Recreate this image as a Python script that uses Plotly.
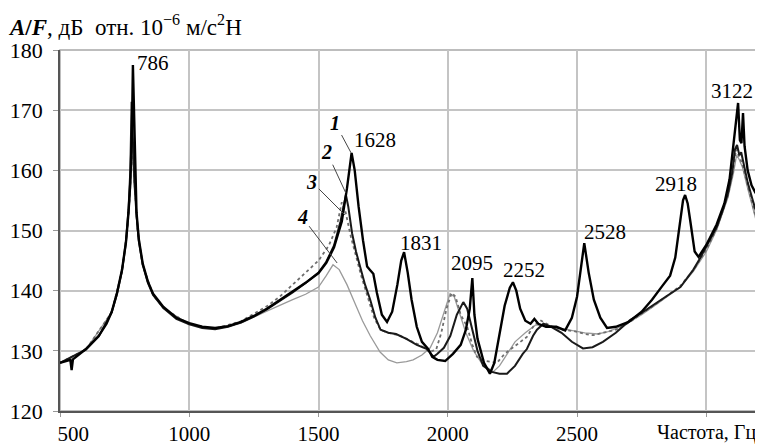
import plotly.graph_objects as go

# ---- data ----
f1 = [500, 530, 540, 545, 550, 600, 650, 680, 700, 720, 740, 755, 765, 772, 778, 782, 786, 790, 796, 805, 820, 840, 860, 900, 950,
      1000, 1050, 1100, 1150, 1200, 1250, 1300, 1350, 1400, 1450, 1500, 1530, 1560, 1590, 1610, 1628, 1640, 1655, 1672, 1688,
      1700, 1712, 1726, 1745, 1765, 1785, 1805, 1820, 1831, 1845, 1860, 1880, 1900, 1924, 1940, 1960, 1990, 2020, 2050, 2070,
      2085, 2095, 2103, 2115, 2140, 2163, 2180, 2200, 2220, 2240, 2252, 2265, 2280, 2300, 2320, 2335, 2350, 2380, 2420, 2454,
      2480, 2500, 2515, 2528, 2545, 2565, 2590, 2616, 2650, 2700, 2750, 2790, 2830, 2860, 2880, 2895, 2910, 2918, 2928, 2940,
      2955, 2970, 3000, 3040, 3070, 3090, 3105, 3117, 3123, 3130, 3136, 3142, 3148, 3160, 3175, 3190, 3200]
a1 = [128.0, 128.3, 128.5, 126.8, 128.6, 130.3, 132.5, 134.5, 136.5, 139.5, 143.5, 148.0, 153.0, 158.0, 166.0, 177.5, 170.0, 160.0, 153.0, 148.5, 144.5, 141.5, 139.5, 137.3, 135.5,
      134.6, 134.0, 133.8, 134.1, 134.8, 135.8, 137.0, 138.4, 139.8, 141.3, 142.9, 144.6, 147.2, 151.5, 157.0, 162.9, 160.0, 154.0, 148.4, 144.0,
      143.4, 142.8, 139.6, 136.0, 134.8, 136.5, 141.0, 145.0, 146.4, 143.0, 138.5, 134.0, 131.5, 130.3, 129.0, 128.5, 128.3, 129.5, 131.0, 133.5,
      137.0, 142.1, 136.0, 132.0, 128.0, 126.2, 128.0, 133.0, 137.5, 140.5, 141.4, 140.0, 137.0, 135.0, 134.5, 135.3, 134.5, 134.0, 134.0, 133.4,
      135.5, 139.0, 144.0, 147.9, 143.0, 138.5, 135.5, 133.8, 134.0, 134.8, 136.5, 138.5, 140.8, 142.5, 145.5, 150.0, 155.0, 155.9, 154.5, 151.0,
      146.5, 145.6, 147.6, 151.0, 154.5, 158.5, 164.0, 169.0, 171.2, 165.0, 164.5, 169.5, 164.0, 160.0, 157.5, 156.3, 156.2]

f2 = [500, 600, 650, 700, 720, 740, 755, 765, 772, 777, 782, 788, 796, 805, 820, 840, 860, 900, 950, 1000, 1050, 1100, 1150,
      1200, 1250, 1300, 1350, 1400, 1450, 1500, 1530, 1560, 1585, 1600, 1606, 1615, 1630, 1645, 1661, 1680, 1700, 1720, 1740,
      1770, 1800, 1840, 1880, 1920, 1945, 1960, 1985, 2010, 2035, 2060, 2075, 2095, 2115, 2137, 2170, 2200, 2229, 2260, 2290,
      2306, 2330, 2345, 2370, 2400, 2440, 2480, 2523, 2560, 2600, 2650, 2705, 2750, 2800, 2850, 2900, 2950, 2976, 3010, 3041,
      3065, 3084, 3100, 3111, 3119, 3128, 3135, 3145, 3160, 3180, 3200]
a2 = [128.0, 130.2, 132.4, 136.4, 139.4, 143.3, 148.0, 153.5, 160.0, 171.4, 165.0, 158.0, 152.5, 148.2, 144.3, 141.3, 139.3, 137.1, 135.3, 134.4, 133.8, 133.6, 134.0,
      134.7, 135.7, 136.9, 138.3, 139.7, 141.3, 143.0, 144.8, 147.5, 151.5, 155.0, 155.9, 154.0, 149.5, 146.5, 143.9, 141.0, 138.5, 135.5, 133.5,
      133.0, 132.8, 132.0, 131.0, 130.3, 129.0, 129.5, 130.5, 132.5, 136.0, 138.1, 137.0, 133.5, 130.0, 127.5, 126.5, 126.2, 126.2, 127.5, 129.5,
      130.3, 132.5, 133.5, 134.5, 134.0, 133.0, 131.5, 130.4, 130.6, 131.5, 133.0, 135.1, 136.3, 137.8, 139.2, 140.6, 143.5, 145.4, 148.0, 150.6,
      153.5, 156.2, 159.5, 163.5, 164.2, 162.5, 163.0, 161.0, 158.0, 155.0, 152.0]

f3 = [500, 600, 700, 740, 760, 770, 776, 779, 784, 790, 800, 820, 860, 900, 1000, 1100, 1200, 1300, 1350, 1400, 1450, 1500,
      1540, 1570, 1590, 1605, 1625, 1645, 1665, 1690, 1715, 1740, 1770, 1810, 1850, 1890, 1930, 1955, 1975, 1995, 2015, 2030,
      2050, 2075, 2095, 2113, 2150, 2190, 2220, 2252, 2280, 2306, 2330, 2357, 2395, 2440, 2485, 2530, 2562, 2600, 2650, 2705,
      2750, 2800, 2850, 2900, 2950, 3000, 3041, 3084, 3105, 3116, 3125, 3140, 3160, 3180, 3200]
a3 = [128.0, 130.2, 136.4, 143.3, 150.0, 155.5, 162.0, 166.0, 161.0, 156.0, 150.0, 144.2, 139.3, 137.1, 134.4, 133.7, 134.9, 137.4, 139.0, 141.0, 143.0, 145.0,
      147.5, 150.5, 154.7, 153.0, 149.0, 145.5, 142.5, 139.0, 135.5, 133.5, 133.0, 132.6, 131.8, 131.0, 129.8, 130.2, 133.0, 137.0, 139.6, 139.0,
      136.0, 134.0, 131.0, 129.0, 128.3, 128.0, 129.5, 130.6, 131.5, 132.3, 134.0, 135.1, 134.2, 133.5, 133.3, 132.8, 132.6, 133.0, 133.5, 134.8,
      136.2, 137.6, 139.2, 140.8, 143.4, 146.8, 150.4, 155.8, 160.5, 163.5, 162.5, 161.0, 157.5, 154.0, 150.8]

f4 = [500, 600, 700, 740, 760, 770, 776, 779, 784, 790, 800, 820, 860, 900, 1000, 1100, 1200, 1300, 1350, 1400, 1450, 1500,
      1530, 1556, 1580, 1610, 1640, 1670, 1700, 1738, 1770, 1803, 1840, 1866, 1900, 1932, 1960, 1985, 2009, 2025, 2045, 2070,
      2100, 2130, 2175, 2200, 2230, 2260, 2300, 2340, 2380, 2430, 2480, 2530, 2580, 2620, 2680, 2750, 2800, 2850, 2900, 2950,
      3000, 3041, 3084, 3105, 3117, 3125, 3140, 3160, 3180, 3200]
a4 = [128.0, 130.2, 136.4, 143.3, 150.0, 155.0, 160.0, 164.5, 160.0, 155.5, 150.0, 144.2, 139.3, 137.1, 134.4, 133.7, 134.6, 136.6, 137.6, 138.5, 139.4, 140.6,
      142.5, 144.3, 143.5, 141.0, 138.0, 135.0, 132.5, 129.8, 128.5, 128.0, 128.2, 128.5, 129.3, 130.5, 133.0, 136.5, 139.5, 139.0, 136.5, 133.0,
      130.0, 128.0, 126.5, 127.5, 129.5, 131.5, 133.0, 134.3, 134.2, 133.8, 133.5, 133.0, 132.8, 133.2, 134.2, 136.0, 137.5, 139.0, 140.6, 143.2,
      146.5, 150.2, 155.5, 159.5, 162.5, 162.0, 160.5, 157.0, 153.5, 150.5]

peak_labels = ["786", "1628", "1831", "2095", "2252", "2528", "2918", "3122"]
peak_label_x = [860, 1719, 1897, 2094, 2295, 2608, 2883, 3100]
peak_label_y = [177.8, 165.0, 148.0, 144.6, 143.4, 149.7, 157.7, 173.2]

curve_names = ["1", "2", "3", "4"]
curve_tip_x = [1626, 1606, 1602, 1572]
curve_tip_y = [162.9, 156.2, 152.6, 144.6]
curve_text_dx = [-16, -19, -33, -35]
curve_text_dy = [-30, -41, -33, -46]

x_ticks = [500, 1000, 1500, 2000, 2500, 3000]
x_ticktext = ["\u00a0" * 5 + "500", "1000", "1500", "2000", "2500", " "]
y_ticks = [120, 130, 140, 150, 160, 170, 180]

FONT = "Liberation Serif, Times New Roman, serif"

# the page body has an 8px default margin; size the figure so the plot
# area lands at x 60..758, y 50..411 of the 763x447 window
W, H = 755, 439

fig = go.Figure()
fig.add_trace(go.Scatter(x=f4, y=a4, mode="lines", line=dict(color="#9a9a9a", width=1.3), name="4"))
fig.add_trace(go.Scatter(x=f3, y=a3, mode="lines", line=dict(color="#6e6e6e", width=1.8, dash="dot"), name="3"))
fig.add_trace(go.Scatter(x=f2, y=a2, mode="lines", line=dict(color="#1a1a1a", width=2.0), name="2"))
fig.add_trace(go.Scatter(x=f1, y=a1, mode="lines", line=dict(color="#000000", width=2.4), name="1"))

for t, x, y in zip(peak_labels, peak_label_x, peak_label_y):
    fig.add_annotation(x=x, y=y, text=t, showarrow=False,
                       font=dict(family=FONT, size=21, color="black"),
                       xanchor="center", yanchor="middle")

for t, x, y, dx, dy in zip(curve_names, curve_tip_x, curve_tip_y, curve_text_dx, curve_text_dy):
    fig.add_annotation(x=x, y=y, text="<b><i>" + t + "</i></b>", showarrow=True,
                       arrowhead=0, arrowwidth=1, arrowcolor="#444", ax=dx, ay=dy,
                       font=dict(family=FONT, size=20, color="black"), standoff=0)

fig.add_annotation(xref="paper", yref="paper", x=1, y=0, xanchor="right", yanchor="middle",
                   yshift=-21, showarrow=False, text="Частота, Гц",
                   font=dict(family=FONT, size=20, color="black"))

# light top/right frame
fig.add_shape(type="rect", xref="paper", yref="paper", x0=0, y0=0, x1=1, y1=1,
              line=dict(color="#a8a8a8", width=1.5), layer="below")

fig.update_layout(
    width=W, height=H,
    margin=dict(l=52, r=5, t=42, b=36, autoexpand=False),
    paper_bgcolor="white", plot_bgcolor="white",
    showlegend=False,
    font=dict(family=FONT, size=22, color="black"),
    title=dict(text="<b><i>A</i>/<i>F</i></b>, дБ  отн. 10<sup>−6</sup> м/с<sup>2</sup>Н",
               x=2 / W, xanchor="left", xref="container",
               y=1 - 19 / H, yanchor="middle", yref="container",
               font=dict(family=FONT, size=23, color="black")),
    xaxis=dict(range=[500, 3200], tickvals=x_ticks, ticktext=x_ticktext,
               showgrid=True, gridcolor="#c4c4c4", gridwidth=1.5,
               showline=True, linecolor="#555555", linewidth=1.5,
               ticks="outside", ticklen=4, tickcolor="#999999",
               tickfont=dict(family=FONT, size=21), zeroline=False,
               automargin=False, ticklabelstandoff=-1),
    yaxis=dict(range=[120, 180], tickvals=y_ticks,
               showgrid=True, gridcolor="#c4c4c4", gridwidth=1.5,
               showline=True, linecolor="#555555", linewidth=1.5,
               ticks="outside", ticklen=5, tickcolor="#999999",
               tickfont=dict(family=FONT, size=22), zeroline=False,
               automargin=False, ticklabelstandoff=6),
)

fig.write_html("out.html")
